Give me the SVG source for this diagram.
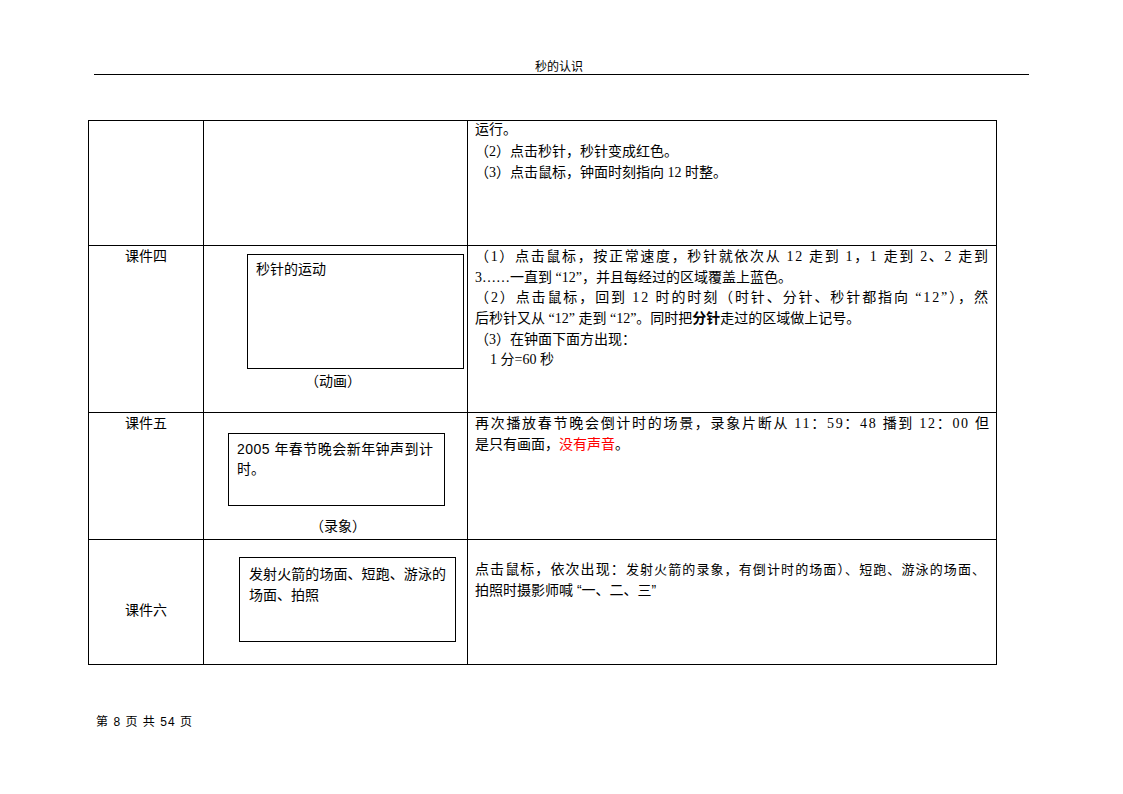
<svg xmlns="http://www.w3.org/2000/svg" width="1123" height="794" viewBox="0 0 1123 794">
<style>
.t{font-family:"Liberation Serif","Noto Sans CJK SC",serif;font-size:14px;fill:#000}
.s{font-family:"Liberation Sans","Noto Sans CJK SC",sans-serif;font-size:14px;fill:#000}
.h{font-family:"Liberation Sans","Noto Sans CJK SC",sans-serif;font-size:12px;fill:#000}
.ln{stroke:#000;stroke-width:1;fill:none}
.bx{stroke:#000;stroke-width:1;fill:#fff}
</style>
<rect width="1123" height="794" fill="#fff"/>
<g id="header">
<text class="h" x="559" y="71" text-anchor="middle">秒的认识</text>
<line class="ln" x1="94" y1="74.5" x2="1029" y2="74.5"/>
</g>
<g id="table">
<rect class="ln" x="88.5" y="120.5" width="908" height="544"/>
<line class="ln" x1="203.5" y1="120" x2="203.5" y2="664"/>
<line class="ln" x1="467.5" y1="120" x2="467.5" y2="664"/>
<line class="ln" x1="88" y1="245.5" x2="996" y2="245.5"/>
<line class="ln" x1="88" y1="412.5" x2="996" y2="412.5"/>
<line class="ln" x1="88" y1="539.5" x2="996" y2="539.5"/>
</g>
<g id="row1">
<text class="t" x="475" y="134">运行。</text>
<text class="t" x="475" y="156">（2）点击秒针，秒针变成红色。</text>
<text class="t" x="475" y="177">（3）点击鼠标，钟面时刻指向 12 时整。</text>
</g>
<g id="row2">
<text class="t" x="146" y="261" text-anchor="middle">课件四</text>
<rect class="bx" x="247.5" y="254.5" width="216" height="114"/>
<text class="s" x="256" y="274">秒针的运动</text>
<text class="s" x="333" y="386" text-anchor="middle">（动画）</text>
<text class="t" x="475" y="261" textLength="513" lengthAdjust="spacing">（1）点击鼠标，按正常速度，秒针就依次从 12 走到 1，1 走到 2、2 走到</text>
<text class="t" x="475" y="282">3……一直到 “12”，并且每经过的区域覆盖上蓝色。</text>
<text class="t" x="475" y="302" textLength="513" lengthAdjust="spacing">（2）点击鼠标，回到 12 时的时刻（时针、分针、秒针都指向 “12”），然</text>
<text class="t" x="475" y="323">后秒针又从 “12” 走到 “12”。同时把<tspan font-weight="bold">分针</tspan>走过的区域做上记号。</text>
<text class="t" x="475" y="344">（3）在钟面下面方出现：</text>
<text class="t" x="490" y="364">1 分=60 秒</text>
</g>
<g id="row3">
<text class="t" x="146" y="428" text-anchor="middle">课件五</text>
<rect class="bx" x="228.5" y="433.5" width="216" height="72"/>
<text class="s" x="237" y="454" textLength="196" lengthAdjust="spacing">2005 年春节晚会新年钟声到计</text>
<text class="s" x="237" y="474">时。</text>
<text class="s" x="338" y="531" text-anchor="middle">（录象）</text>
<text class="t" x="475" y="428" textLength="514" lengthAdjust="spacing">再次播放春节晚会倒计时的场景，录象片断从 11：59：48 播到 12：00 但</text>
<text class="t" x="475" y="449">是只有画面，<tspan fill="#ff0000">没有声音</tspan>。</text>
</g>
<g id="row4">
<text class="t" x="146" y="615" text-anchor="middle">课件六</text>
<rect class="bx" x="239.5" y="557.5" width="216" height="84"/>
<text class="s" x="249" y="579" textLength="197" lengthAdjust="spacing">发射火箭的场面、短跑、游泳的</text>
<text class="s" x="249" y="600">场面、拍照</text>
<text class="s" x="475" y="574" textLength="510" lengthAdjust="spacing">点击鼠标，依次出现：<tspan font-size="13">发射火箭的录象，有倒计时的场面）、短跑、游泳的场面、</tspan></text>
<text class="s" x="475" y="595">拍照时摄影师喊 “一、二、三”</text>
</g>
<g id="footer">
<text class="h" x="96" y="726" textLength="96" lengthAdjust="spacing">第 8 页 共 54 页</text>
</g>
</svg>
